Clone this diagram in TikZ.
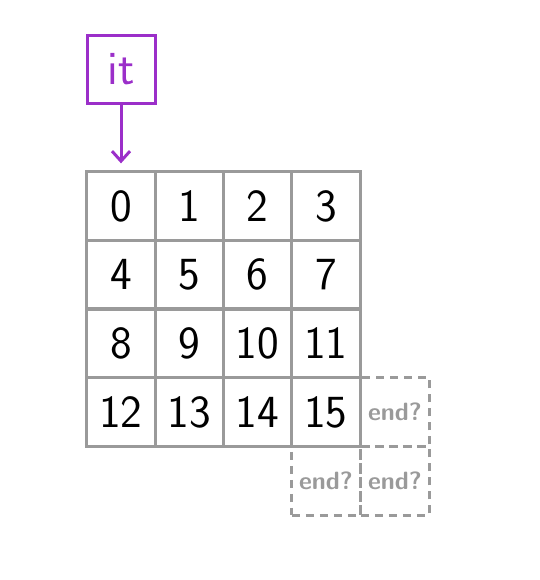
\documentclass[tikz,border=0pt]{standalone}
\usetikzlibrary{arrows.meta}
\definecolor{itpurple}{HTML}{9B2FC9}
\definecolor{gridgray}{HTML}{9A9A9A}
\begin{document}
\begin{tikzpicture}[x=0.5pt,y=-0.5pt,
        cell/.style={draw=gridgray, line width=1.5pt, minimum size=34.15pt, inner sep=0pt, font=\sffamily\fontsize{23}{26}\selectfont},
        endcell/.style={cell, dash pattern=on 4pt off 3pt, text=gridgray, font=\sffamily\bfseries\fontsize{12.5}{14}\selectfont}]
        \useasboundingbox (0,0) rectangle (540,580);
        % the 4x4 grid
        \foreach \n in {0,...,15} {
            \pgfmathtruncatemacro\c{mod(\n,4)}
            \pgfmathtruncatemacro\r{div(\n,4)}
            \node[cell] (c\n) at ({121+68.3*\c},{206+68.7*\r}) {\n};
        }
        % possible end positions
        \node[endcell] (e1) at (395,412) {end?};
        \node[endcell] (e2) at (326,481) {end?};
        \node[endcell] (e3) at (395,481) {end?};
        % iterator
        \node[draw=itpurple, line width=1.5pt, minimum size=34pt, text=itpurple, font=\sffamily\fontsize{24}{26}\selectfont] (it) at (121,69) {it};
        \draw[itpurple, line width=1.5pt, -{Straight Barb[length=5pt,width=9pt]}] (it.south) -- ([yshift=3.5pt]c0.north);
\end{tikzpicture}
\end{document}
